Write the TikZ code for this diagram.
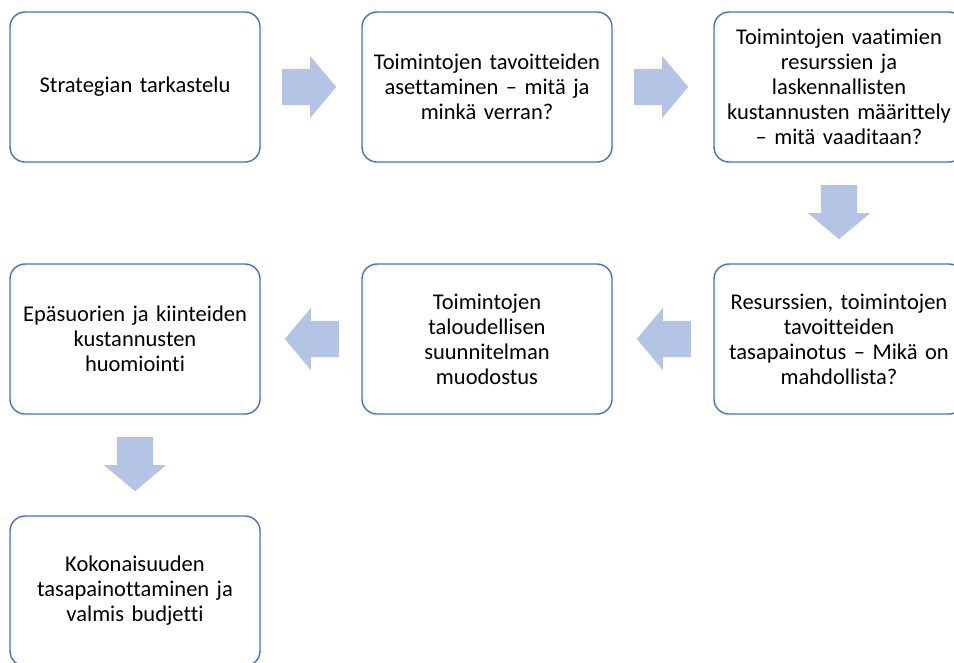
\documentclass[tikz,border=0pt]{standalone}
\usepackage{fontspec}
\setmainfont{Carlito}[Ligatures=NoCommon]
\usetikzlibrary{positioning,calc,shapes.arrows}

\definecolor{boxblue}{HTML}{4472C4}
\definecolor{arrowfill}{RGB}{180,196,228}

\tikzset{
	stage/.style={draw=boxblue, line width=1.4pt, rounded corners=15pt, fill=white, outer sep=0pt,
		minimum width=250pt, minimum height=150pt, text width=240pt, align=center,
		font=\fontsize{22.5}{25}\selectfont},
	flow/.style={single arrow, fill=arrowfill, draw=none, inner xsep=0pt, inner ysep=18pt,
		minimum height=54pt, single arrow head extend=13pt, single arrow tip angle=100,
		single arrow head indent=0pt, anchor=tail},
}

\begin{document}
\begin{tikzpicture}[x=1pt, y=-1pt, node distance=102pt]
		\useasboundingbox[fill=white] (0,0) rectangle (954,662);
		\clip (0,0) rectangle (954,662);
		% first row
		\node[stage] (tarkastelu) at (135,87) {Strategian tarkastelu};
		\node[stage, right=of tarkastelu] (tavoitteet) {Toimintojen tavoitteiden\\asettaminen -- mitä ja\\minkä verran?};
		\node[stage, right=of tavoitteet] (resurssit) {Toimintojen vaatimien\\resurssien ja\\laskennallisten\\kustannusten määrittely\\-- mitä vaaditaan?};
		% second row
		\node[stage, below=of resurssit] (tasapaino) {Resurssien, toimintojen\\tavoitteiden\\tasapainotus -- Mikä on\\mahdollista?};
		\node[stage, left=of tasapaino] (suunnitelma) {Toimintojen\\taloudellisen\\suunnitelman\\muodostus};
		\node[stage, left=of suunnitelma] (kustannukset) {Epäsuorien ja kiinteiden\\kustannusten\\huomiointi};
		% last box
		\node[stage, below=of kustannukset] (budjetti) {Kokonaisuuden\\tasapainottaminen ja\\valmis budjetti};
		% block arrows between the stages
		\node[flow] (f1) at ($(tarkastelu.east)+(22,0)$) {};
		\node[flow] (f2) at ($(tavoitteet.east)+(22,0)$) {};
		\node[flow, rotate=-90] (f3) at ($(resurssit.south)+(0,23)$) {};
		\node[flow, rotate=180] (f4) at ($(tasapaino.west)+(-23,0)$) {};
		\node[flow, rotate=180] (f5) at ($(suunnitelma.west)+(-23,0)$) {};
		\node[flow, rotate=-90] (f6) at ($(kustannukset.south)+(0,23)$) {};
\end{tikzpicture}
\end{document}
